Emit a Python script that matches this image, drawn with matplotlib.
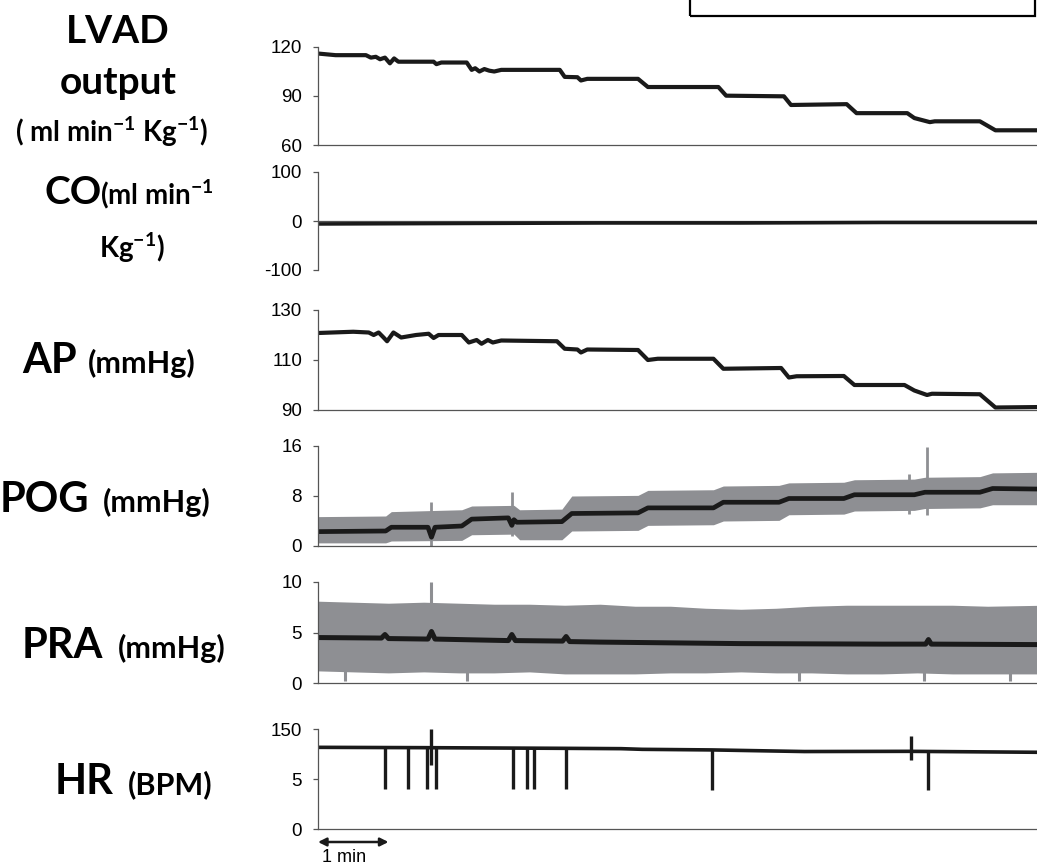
import matplotlib
matplotlib.use("Agg")
import matplotlib.pyplot as plt
from matplotlib.patches import Rectangle

W, H = 1037, 865

# ---------------- data (time in minutes) ----------------
lvad_t = [0, 0.25, 0.68, 0.75, 0.82, 0.88, 0.95, 1.02, 1.08, 1.14, 1.2, 1.64, 1.68, 1.75,
          2.11, 2.18, 2.23, 2.29, 2.36, 2.43, 2.5, 2.6, 3.43, 3.5, 3.68, 3.73, 3.82, 4.54,
          4.68, 5.68, 5.79, 6.61, 6.71, 7.5, 7.64, 8.36, 8.46, 8.68, 8.75, 9.39, 9.61, 10.3]
lvad_v = [116, 115, 115, 113.5, 114, 112.5, 113.5, 110, 113, 111, 111, 111, 109.5, 110.5,
          110.5, 106, 107, 105, 106.5, 105.5, 105, 106, 106, 101.7, 101.5, 99.5, 100.5, 100.5,
          95.5, 95.5, 90.2, 89.8, 84.5, 85, 79.5, 79.5, 76.5, 74, 74.5, 74.5, 69, 69]

co_t = [0, 2.0, 4.0, 6.0, 8.0, 10.3]
co_v = [-6, -5, -4, -4, -3, -3]

ap_t = [0, 0.5, 0.72, 0.79, 0.86, 0.93, 0.98, 1.07, 1.18, 1.39, 1.57, 1.64, 1.71, 2.04,
        2.14, 2.25, 2.32, 2.41, 2.48, 2.6, 3.39, 3.5, 3.68, 3.73, 3.82, 4.54, 4.68, 4.82,
        5.61, 5.75, 6.57, 6.68, 6.79, 7.46, 7.61, 8.32, 8.46, 8.64, 8.71, 9.39, 9.61, 10.3]
ap_v = [120.8, 121.3, 121, 120, 121, 119, 117.5, 121, 119, 120, 120.5, 118.8, 120, 120,
        117, 118, 116.5, 118, 117, 117.8, 117.5, 114.5, 114.2, 113, 114.2, 114, 110, 110.5,
        110.5, 106.5, 106.8, 103, 103.5, 103.6, 100, 100, 97.8, 96, 96.5, 96.3, 91, 91.2]

pog_t = [0, 0.96, 1.04, 1.56, 1.61, 1.66, 2.04, 2.18, 2.7, 2.75, 2.78, 2.82, 3.46, 3.6,
         4.54, 4.68, 5.61, 5.75, 6.54, 6.68, 7.46, 7.61, 8.46, 8.61, 9.39, 9.57, 10.3]
pog_mean = [2.3, 2.4, 3.0, 3.0, 1.4, 3.0, 3.2, 4.3, 4.5, 3.3, 4.2, 3.8, 3.9, 5.2,
            5.3, 6.1, 6.1, 7.0, 7.0, 7.6, 7.6, 8.2, 8.2, 8.6, 8.6, 9.2, 9.1]
pog_env_t = [0, 0.96, 1.04, 2.04, 2.18, 2.78, 2.86, 3.46, 3.6, 4.54, 4.68, 5.61, 5.75,
             6.54, 6.68, 7.46, 7.61, 8.46, 8.61, 9.39, 9.57, 10.3]
pog_upper = [4.7, 4.8, 5.5, 5.8, 6.4, 6.5, 5.8, 5.9, 8.0, 8.1, 8.9, 9.0, 9.6,
             9.7, 10.1, 10.2, 10.6, 10.7, 11.0, 11.1, 11.7, 11.8]
pog_lower = [0.5, 0.5, 0.8, 0.9, 1.8, 1.9, 1.0, 1.0, 2.4, 2.5, 3.3, 3.4, 4.0,
             4.1, 5.0, 5.1, 5.6, 5.7, 6.0, 6.1, 6.6, 6.6]
pog_spike_t = [1.61, 2.75, 8.39, 8.64]
pog_spike_lo = [0.0, 1.6, 5.2, 5.0]
pog_spike_hi = [7.0, 8.6, 11.6, 15.8]

pra_t = [0, 0.9, 0.95, 1.0, 1.56, 1.61, 1.66, 2.0, 2.7, 2.75, 2.8, 3.47, 3.52, 3.57,
         4.0, 6.0, 8.0, 8.62, 8.66, 8.7, 10.3]
pra_mean = [4.5, 4.45, 4.8, 4.4, 4.35, 5.1, 4.35, 4.3, 4.2, 4.8, 4.2, 4.15, 4.6, 4.1,
            4.05, 3.9, 3.85, 3.85, 4.3, 3.85, 3.8]
pra_env_t = [0, 0.5, 1.0, 1.5, 2.0, 2.5, 3.0, 3.5, 4.0, 4.5, 5.0, 5.5, 6.0, 6.5, 7.0,
             7.5, 8.0, 8.5, 9.0, 9.5, 10.3]
pra_upper = [8.1, 8.0, 7.9, 8.0, 7.9, 7.8, 7.8, 7.7, 7.8, 7.6, 7.6, 7.4, 7.3, 7.4, 7.6,
             7.7, 7.7, 7.7, 7.7, 7.6, 7.7]
pra_lower = [1.2, 1.1, 1.0, 1.1, 1.0, 1.0, 1.1, 0.9, 0.9, 0.9, 1.0, 1.0, 1.1, 1.0, 1.0,
             0.9, 0.9, 1.0, 0.9, 0.9, 0.9]
pra_spike_t = [1.61, 0.39, 2.11, 6.82, 8.6, 9.82]
pra_spike_lo = [7.5, 0.2, 0.2, 0.2, 0.2, 0.2]
pra_spike_hi = [10.0, 1.5, 1.5, 1.5, 1.5, 1.5]

hr_t = [0, 1.5, 3.5, 4.3, 4.6, 5.6, 6.9, 8.4, 10.3]
hr_v = [122.5, 122, 121, 120.5, 119.5, 118.6, 116.2, 116.5, 115]
hr_spike_t = [0.95, 1.27, 1.54, 1.68, 2.77, 2.96, 3.06, 3.52, 5.59, 8.66]
hr_spike_lo = [60, 60, 60, 60, 60, 60, 60, 60, 58, 58]
hr_spike_hi = [122, 122, 122, 122, 121.5, 121.5, 121.5, 121, 118.6, 116.5]
hr_up_t = [1.61, 8.41]
hr_up_lo = [96, 104]
hr_up_hi = [150, 139]

# ---------------- figure ----------------
plt.rcParams["mathtext.fontset"] = "custom"
plt.rcParams["mathtext.rm"] = "Lato"
plt.rcParams["mathtext.bf"] = "Lato:bold"

fig = plt.figure(figsize=(W / 100, H / 100), dpi=100)


def fx(x):
    return x / W


def fy(y):
    return 1 - y / H


LEFT, RIGHT = 318, 1037
rows = [(47, 145), (172, 270), (310, 410), (446, 546), (582, 683), (729, 829)]
XMAX = 10.2
TICKFONT = dict(family=["Liberation Sans Narrow", "Liberation Sans"], size=13.5)
SPINE = "#555555"
BLACK = "#1a1a1a"
GREY = "#8e8f93"

axes = []
for top, bot in rows:
    ax = fig.add_axes([fx(LEFT), fy(bot), fx(RIGHT - LEFT), (bot - top) / H])
    ax.set_xlim(0, XMAX)
    for s in ("top", "right"):
        ax.spines[s].set_visible(False)
    ax.spines["left"].set_color(SPINE)
    ax.spines["bottom"].set_color(SPINE)
    ax.spines["left"].set_linewidth(0.9)
    ax.spines["bottom"].set_linewidth(0.9)
    ax.set_xticks([])
    ax.tick_params(axis="y", direction="out", length=3.5, width=0.9, color=SPINE, pad=8)
    axes.append(ax)

ax_lvad, ax_co, ax_ap, ax_pog, ax_pra, ax_hr = axes


def set_y(ax, lo, hi, ticks, labels=None):
    ax.set_ylim(lo, hi)
    ax.set_yticks(ticks)
    ax.set_yticklabels(labels if labels else [str(t) for t in ticks], fontdict=TICKFONT)


# LVAD output
ax_lvad.plot(lvad_t, lvad_v, color=BLACK, lw=3.0, solid_joinstyle="round")
set_y(ax_lvad, 60, 120, [60, 90, 120])

# CO
ax_co.spines["bottom"].set_visible(False)
ax_co.axhline(0, color=SPINE, lw=0.9)
ax_co.plot(co_t, co_v, color=BLACK, lw=2.6)
set_y(ax_co, -100, 100, [-100, 0, 100])

# AP
ax_ap.plot(ap_t, ap_v, color=BLACK, lw=3.0, solid_joinstyle="round")
set_y(ax_ap, 90, 130, [90, 110, 130])

# POG
ax_pog.fill_between(pog_env_t, pog_lower, pog_upper, color=GREY, lw=0)
ax_pog.vlines(pog_spike_t, pog_spike_lo, pog_spike_hi, color=GREY, lw=2.0)
ax_pog.plot(pog_t, pog_mean, color=BLACK, lw=3.4, solid_joinstyle="round")
set_y(ax_pog, 0, 16, [0, 8, 16])

# PRA
ax_pra.fill_between(pra_env_t, pra_lower, pra_upper, color=GREY, lw=0)
ax_pra.vlines(pra_spike_t, pra_spike_lo, pra_spike_hi, color=GREY, lw=2.2)
ax_pra.plot(pra_t, pra_mean, color=BLACK, lw=3.6, solid_joinstyle="round")
set_y(ax_pra, 0, 10, [0, 5, 10])

# HR
ax_hr.plot(hr_t, hr_v, color=BLACK, lw=2.6)
ax_hr.vlines(hr_spike_t, hr_spike_lo, hr_spike_hi, color=BLACK, lw=2.4)
ax_hr.vlines(hr_up_t, hr_up_lo, hr_up_hi, color=BLACK, lw=2.4)
set_y(ax_hr, 0, 150, [0, 75, 150], ["0", "5", "150"])

# time scale bar
ax_hr.annotate("", xy=(1.0, -0.13), xytext=(0.0, -0.13),
               xycoords=("data", "axes fraction"), textcoords=("data", "axes fraction"),
               arrowprops=dict(arrowstyle="<|-|>", color=BLACK, lw=1.8,
                               mutation_scale=12, shrinkA=0, shrinkB=0),
               annotation_clip=False)
fig.text(fx(322), fy(857), "1 min", ha="left", va="center",
         family=TICKFONT["family"], size=13)

# ---------------- left-hand labels ----------------
BIG = dict(family="Lato", weight="bold", size=28, color="black")
BIG2 = dict(family="Lato", weight="bold", size=30, color="black")
SMALL = dict(family="Lato", weight="bold", size=20, color="black")
SMALL2 = dict(family="Lato", weight="bold", size=22, color="black")

fig.text(fx(118), fy(43), "LVAD", ha="center", va="baseline", **BIG)
fig.text(fx(118), fy(94), "output", ha="center", va="baseline", **BIG)
fig.text(fx(112), fy(142), r"( ml min$^{\mathbf{-1}}$ Kg$^{\mathbf{-1}}$)",
         ha="center", va="baseline", **SMALL)

fig.text(fx(44), fy(204), "CO", ha="left", va="baseline", **BIG)
fig.text(fx(100), fy(204), r"(ml min$^{\mathbf{-1}}$", ha="left", va="baseline", **SMALL)
fig.text(fx(132), fy(258), r"Kg$^{\mathbf{-1}}$)", ha="center", va="baseline", **SMALL)

for big, small, x_big, x_small, base in [
    ("AP", "(mmHg)", 22, 88, 373),
    ("POG", "(mmHg)", 0, 103, 512),
    ("PRA", "(mmHg)", 22, 118, 658),
    ("HR", "(BPM)", 55, 128, 794),
]:
    fig.text(fx(x_big), fy(base), big, ha="left", va="baseline", **BIG2)
    fig.text(fx(x_small), fy(base), small, ha="left", va="baseline", **SMALL2)

# frame at the top right
fig.patches.append(Rectangle((fx(690), fy(16)), fx(1035 - 690), 30 / H,
                             transform=fig.transFigure, fill=False,
                             edgecolor="black", lw=1.6, clip_on=False))

fig.savefig("out.png", dpi=100, facecolor="white")
